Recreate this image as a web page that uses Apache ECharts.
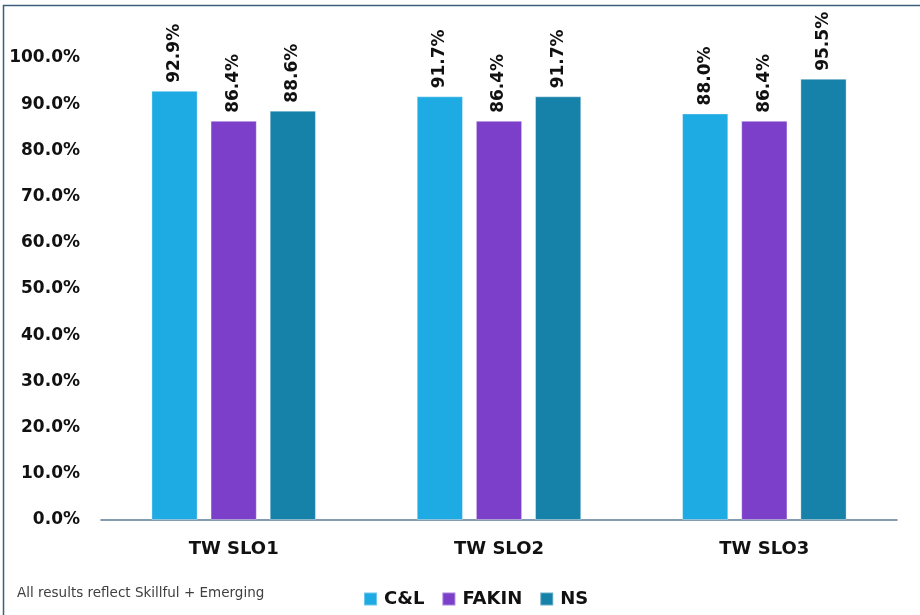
<!DOCTYPE html>
<html>
<head>
<meta charset="utf-8">
<script src="https://cdn.jsdelivr.net/npm/echarts@6/dist/echarts.min.js"></script>
<style>
  html, body { margin: 0; padding: 0; background: #ffffff; }
  #chart { width: 920px; height: 615px; }
</style>
</head>
<body>
<div id="chart"></div>
<script>
// Assessment outcomes per SLO, by group
const categories = ['TW SLO1', 'TW SLO2', 'TW SLO3'];
const seriesNames = ['C&L', 'FAKIN', 'NS'];
const cnlValues = [92.9, 91.7, 88.0];
const fakinValues = [86.4, 86.4, 86.4];
const nsValues = [88.6, 91.7, 95.5];
const yTicks = [0, 10, 20, 30, 40, 50, 60, 70, 80, 90, 100];
const footnote = 'All results reflect Skillful + Emerging';

const colors = ['#1EAAE2', '#7B3FC9', '#1681A9'];
const FONT = 'DejaVu Sans';

const chart = echarts.init(document.getElementById('chart'), null, { renderer: 'canvas' });

function makeSeries(name, data, color) {
  return {
    name: name,
    type: 'bar',
    data: data,
    barGap: '28%',
    barCategoryGap: '38%',
    itemStyle: { color: color, borderColor: 'rgba(255,255,255,0.35)', borderWidth: 1 },
    label: {
      show: true,
      position: 'top',
      rotate: 90,
      align: 'left',
      verticalAlign: 'middle',
      distance: 8,
      formatter: p => p.value.toFixed(1) + '%',
      fontFamily: FONT,
      fontWeight: 'bold',
      fontSize: 17,
      color: '#111111'
    }
  };
}

chart.setOption({
  animation: false,
  backgroundColor: '#ffffff',
  grid: { left: 101, right: 23, top: 58, bottom: 95, containLabel: false },
  legend: {
    data: seriesNames,
    left: 358,
    bottom: 2,
    itemWidth: 13,
    itemHeight: 13,
    itemGap: 17,
    icon: 'rect',
    textStyle: { fontFamily: FONT, fontWeight: 'bold', fontSize: 18, color: '#111111', padding: [0, 0, 0, 2] }
  },
  xAxis: {
    type: 'category',
    data: categories,
    axisLine: { lineStyle: { color: '#5B7C98', width: 1.5 } },
    axisTick: { show: false },
    axisLabel: {
      margin: 20,
      fontFamily: FONT,
      fontWeight: 'bold',
      fontSize: 18,
      color: '#111111'
    }
  },
  yAxis: {
    type: 'value',
    min: yTicks[0],
    max: yTicks[yTicks.length - 1],
    interval: yTicks[1] - yTicks[0],
    splitLine: { show: false },
    axisLine: { show: false },
    axisTick: { show: false },
    axisLabel: {
      margin: 21,
      fontFamily: FONT,
      fontWeight: 'bold',
      fontSize: 17,
      color: '#111111',
      formatter: v => v.toFixed(1) + '%'
    }
  },
  graphic: [
    {
      type: 'polyline',
      shape: { points: [[3.5, 615], [3.5, 5.5], [920, 5.5]] },
      style: { stroke: '#3E5E7C', lineWidth: 1.5, fill: null }
    },
    {
      type: 'text',
      left: 17,
      top: 586,
      style: { text: footnote, fontFamily: FONT, fontSize: 13.5, fill: '#404040' }
    }
  ],
  series: [
    makeSeries(seriesNames[0], cnlValues, colors[0]),
    makeSeries(seriesNames[1], fakinValues, colors[1]),
    makeSeries(seriesNames[2], nsValues, colors[2])
  ]
});
</script>
</body>
</html>
